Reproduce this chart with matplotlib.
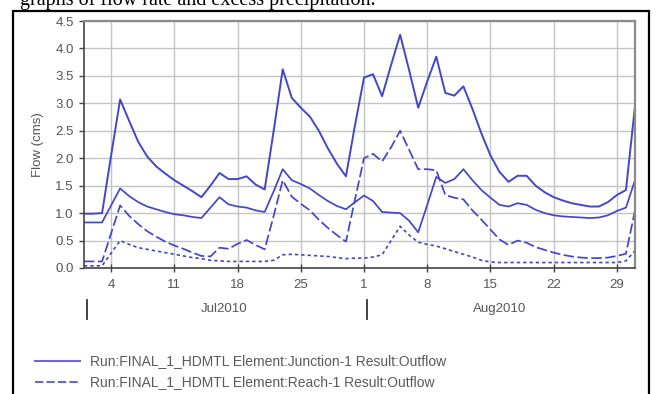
import matplotlib
matplotlib.use("Agg")
import matplotlib.pyplot as plt
from matplotlib.lines import Line2D
from matplotlib.patches import Rectangle
import matplotlib.transforms as mtransforms

# ---------------- data (daily values, 1 Jul 2010 .. 31 Aug 2010) ----------------
day_index = list(range(62))

junction_outflow = [0.99, 0.99, 1.00, 2.05, 3.07, 2.68, 2.30, 2.03, 1.85, 1.72,
                    1.60, 1.50, 1.40, 1.29, 1.50, 1.73, 1.62, 1.62, 1.67, 1.52,
                    1.43, 2.50, 3.62, 3.10, 2.92, 2.76, 2.50, 2.18, 1.90, 1.67,
                    2.60, 3.47, 3.53, 3.13, 3.70, 4.25, 3.60, 2.92, 3.40, 3.85,
                    3.19, 3.14, 3.31, 2.90, 2.45, 2.05, 1.75, 1.57, 1.68, 1.68,
                    1.50, 1.38, 1.29, 1.23, 1.18, 1.15, 1.12, 1.12, 1.20, 1.33,
                    1.42, 2.95]

subbasin_outflow = [0.83, 0.83, 0.83, 1.14, 1.45, 1.31, 1.20, 1.12, 1.07, 1.02,
                    0.98, 0.96, 0.93, 0.91, 1.10, 1.29, 1.16, 1.12, 1.10, 1.05,
                    1.02, 1.40, 1.80, 1.60, 1.53, 1.45, 1.33, 1.22, 1.13, 1.07,
                    1.20, 1.32, 1.22, 1.02, 1.01, 1.00, 0.86, 0.65, 1.15, 1.66,
                    1.55, 1.62, 1.80, 1.60, 1.42, 1.28, 1.15, 1.12, 1.18, 1.15,
                    1.06, 1.00, 0.96, 0.94, 0.93, 0.92, 0.91, 0.92, 0.96, 1.04,
                    1.10, 1.60]

reach_outflow = [0.12, 0.12, 0.12, 0.63, 1.14, 0.95, 0.80, 0.67, 0.57, 0.48,
                 0.41, 0.35, 0.28, 0.22, 0.21, 0.37, 0.35, 0.44, 0.51, 0.42,
                 0.34, 0.95, 1.60, 1.30, 1.17, 1.05, 0.88, 0.73, 0.60, 0.48,
                 1.25, 2.00, 2.08, 1.94, 2.20, 2.50, 2.15, 1.80, 1.80, 1.78,
                 1.33, 1.28, 1.25, 1.05, 0.88, 0.70, 0.52, 0.42, 0.50, 0.46,
                 0.38, 0.33, 0.28, 0.24, 0.21, 0.19, 0.18, 0.18, 0.19, 0.22,
                 0.26, 1.05]

local_outflow = [0.04, 0.04, 0.04, 0.27, 0.50, 0.43, 0.37, 0.34, 0.31, 0.28,
                 0.25, 0.22, 0.19, 0.17, 0.14, 0.13, 0.12, 0.12, 0.12, 0.12,
                 0.12, 0.14, 0.24, 0.25, 0.24, 0.23, 0.22, 0.21, 0.19, 0.17,
                 0.18, 0.18, 0.20, 0.24, 0.50, 0.76, 0.60, 0.47, 0.43, 0.40,
                 0.35, 0.30, 0.25, 0.20, 0.14, 0.11, 0.10, 0.10, 0.10, 0.10,
                 0.10, 0.10, 0.10, 0.10, 0.10, 0.10, 0.10, 0.10, 0.10, 0.10,
                 0.13, 0.32]

x_tick_pos = [3, 10, 17, 24, 31, 38, 45, 52, 59]
x_tick_labels = ["4", "11", "18", "25", "1", "8", "15", "22", "29"]
month_labels = ["Jul2010", "Aug2010"]
month_label_pos = [15.5, 46.0]
month_bounds = [0, 31]
y_ticks = [0.0, 0.5, 1.0, 1.5, 2.0, 2.5, 3.0, 3.5, 4.0, 4.5]

legend_labels = ["Run:FINAL_1_HDMTL Element:Junction-1 Result:Outflow",
                 "Run:FINAL_1_HDMTL Element:Reach-1 Result:Outflow"]

# ---------------- figure ----------------
W, H = 662, 394
fig = plt.figure(figsize=(W / 100, H / 100), dpi=100)
fig.patch.set_facecolor("white")
plt.rcParams["font.family"] = ["Liberation Sans", "DejaVu Sans"]

ax_left, ax_right, ax_top, ax_bottom = 84, 635, 21, 268
ax = fig.add_axes([ax_left / W, 1 - ax_bottom / H,
                   (ax_right - ax_left) / W, (ax_bottom - ax_top) / H])

line_color = "#4545cc"
ax.plot(day_index, junction_outflow, color=line_color, lw=1.4)
ax.plot(day_index, subbasin_outflow, color=line_color, lw=1.25)
ax.plot(day_index, reach_outflow, color=line_color, lw=1.25, linestyle=(0, (6, 2)))
ax.plot(day_index, local_outflow, color=line_color, lw=1.2, linestyle=(0, (2, 1.8)))

ax.set_xlim(0, 61)
ax.set_ylim(0, 4.5)
ax.set_yticks(y_ticks)
ax.set_yticklabels([f"{v:.1f}" for v in y_ticks])
ax.set_xticks(x_tick_pos)
ax.set_xticklabels(x_tick_labels)

ax.grid(True, color="#c4c4c4", lw=1.0)
ax.set_axisbelow(True)

tick_col = "#555555"
ax.tick_params(axis="both", colors="#444444", labelcolor=tick_col, labelsize=9.5,
               length=3.5, width=1.0, direction="out", pad=4)
ax.tick_params(axis="x", direction="inout", length=6, pad=5)

for side in ["left", "bottom"]:
    ax.spines[side].set_color("#444444")
    ax.spines[side].set_linewidth(1.2)
for side in ["top", "right"]:
    ax.spines[side].set_color("#8a8a8a")
    ax.spines[side].set_linewidth(1.6)

ax.set_ylabel("Flow (cms)", color=tick_col, fontsize=9.5, labelpad=8)

# month labels and separators
trans = mtransforms.blended_transform_factory(ax.transData, ax.transAxes)
for b in month_bounds:
    ax.plot([b + 0.3, b + 0.3], [(ax_bottom - 300) / (ax_bottom - ax_top),
                                 (ax_bottom - 319) / (ax_bottom - ax_top)],
            transform=trans, color="#333333", lw=1.3, clip_on=False)
for lab, pos in zip(month_labels, month_label_pos):
    ax.text(pos, (ax_bottom - 309) / (ax_bottom - ax_top), lab, transform=trans,
            ha="center", va="center", fontsize=9.5, color=tick_col)

# legend (drawn manually below the plot)
legend_y = [361, 382]
styles = ["-", (0, (4, 1.5))]
for yy, lab, ls in zip(legend_y, legend_labels, styles):
    fig.add_artist(Line2D([35 / W, 80 / W], [1 - yy / H, 1 - yy / H],
                          transform=fig.transFigure, color="#6a6ad6", lw=1.5, linestyle=ls))
    fig.text(90 / W, 1 - yy / H, lab, ha="left", va="center", fontsize=10,
             color="#5a5a5a")

# document context: caption text cut at top and frame around the chart
fig.text(20 / W, 1 - 5 / H, "graphs of flow rate and excess precipitation.",
         family=["Liberation Serif", "DejaVu Serif"], fontsize=14.5, color="black",
         ha="left", va="baseline")
fig.add_artist(Rectangle((13 / W, -0.05), (649 - 13) / W, 1.05 - 11 / H,
                         transform=fig.transFigure, fill=False, edgecolor="black", lw=1.6))

fig.savefig("out.png", dpi=100)
